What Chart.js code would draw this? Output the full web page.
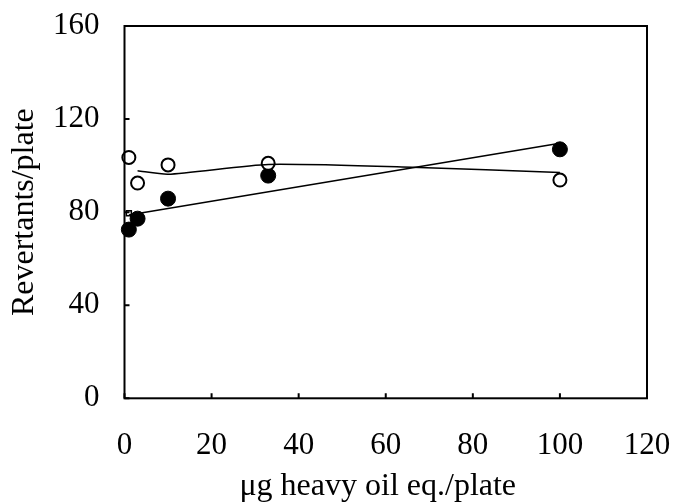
<!DOCTYPE html>
<html>
<head>
<meta charset="utf-8">
<script src="https://cdn.jsdelivr.net/npm/chart.js@4"></script>
<style>
  html, body { margin: 0; padding: 0; background: #fff; }
  #wrap { width: 673px; height: 504px; }
</style>
</head>
<body>
<div id="wrap"><canvas id="myChart" width="673" height="504"></canvas></div>
<script>
// doses (ug heavy oil eq./plate)
const doses = [1, 3, 10, 33, 100];

// revertants per plate
const openValues = [103.5, 92.5, 100.3, 101.0, 93.8];
const filledValues = [72.5, 77.2, 85.8, 95.7, 107.0];

// trend lines
const filledTrendX = [1, 100];
const filledTrendY = [78.8, 109.6];
const openTrendX = [3, 10, 33, 66, 100];
const openTrendY = [97.8, 96.3, 100.5, 99.3, 97.0];

// small square marker next to the axis
const squareX = [1];
const squareY = [79.5];

const xTicks = [0, 20, 40, 60, 80, 100, 120];
const yTicks = [0, 40, 80, 120, 160];

const toPoints = (xs, ys) => xs.map((x, i) => ({ x: x, y: ys[i] }));

const serif = "'Liberation Serif', 'Times New Roman', serif";

// frame + inward tick marks
const framePlugin = {
  id: "frame",
  afterDatasetsDraw(chart) {
    const { ctx, chartArea: a, scales } = chart;
    ctx.save();
    ctx.strokeStyle = "#000";
    ctx.lineWidth = 2;
    ctx.strokeRect(a.left, a.top, a.right - a.left, a.bottom - a.top);
    ctx.beginPath();
    xTicks.forEach((v) => {
      const px = scales.x.getPixelForValue(v);
      ctx.moveTo(px, a.bottom);
      ctx.lineTo(px, a.bottom - 5);
    });
    yTicks.forEach((v) => {
      const py = scales.y.getPixelForValue(v);
      ctx.moveTo(a.left, py);
      ctx.lineTo(a.left + 5, py);
    });
    ctx.stroke();
    ctx.restore();
  },
};

const data = {
  datasets: [
    {
      label: "filled trend",
      data: toPoints(filledTrendX, filledTrendY),
      borderColor: "#000",
      borderWidth: 1.5,
      pointRadius: 0,
      showLine: true,
      fill: false,
    },
    {
      label: "open trend",
      data: toPoints(openTrendX, openTrendY),
      borderColor: "#000",
      borderWidth: 1.5,
      pointRadius: 0,
      showLine: true,
      tension: 0.2,
      fill: false,
    },
    {
      label: "square",
      data: toPoints(squareX, squareY),
      pointStyle: "rect",
      pointRadius: 3.5,
      backgroundColor: "#fff",
      borderColor: "#000",
      borderWidth: 1.5,
      showLine: false,
    },
    {
      label: "open",
      data: toPoints(doses, openValues),
      pointStyle: "circle",
      pointRadius: 6.5,
      backgroundColor: "#fff",
      borderColor: "#000",
      borderWidth: 2,
      showLine: false,
    },
    {
      label: "filled",
      data: toPoints(doses, filledValues),
      pointStyle: "circle",
      pointRadius: 7.5,
      backgroundColor: "#000",
      borderColor: "#000",
      borderWidth: 1,
      showLine: false,
    },
  ],
};

const config = {
  type: "scatter",
  data: data,
  plugins: [framePlugin],
  options: {
    responsive: false,
    animation: false,
    clip: false,
    layout: { padding: { top: 26, right: 26, left: 0, bottom: 0 } },
    plugins: { legend: { display: false }, tooltip: { enabled: false } },
    scales: {
      x: {
        type: "linear",
        min: 0,
        max: 120,
        afterBuildTicks: (s) => { s.ticks = xTicks.map((v) => ({ value: v })); },
        afterFit: (s) => {
          s.height = 105.7;
          s.paddingLeft = 0;
          s.paddingRight = 0;
        },
        grid: { display: false, drawTicks: false },
        border: { display: false },
        ticks: { color: "#000", padding: 29, maxRotation: 0, font: { family: serif, size: 31 } },
        title: {
          display: true,
          // trailing spaces nudge the centred title a little to the left, as in the original
          text: "μg heavy oil eq./plate\u00a0\u00a0",
          color: "#000",
          font: { family: serif, size: 32, lineHeight: 1.1 },
          padding: 0,
        },
      },
      y: {
        type: "linear",
        min: 0,
        max: 160,
        afterBuildTicks: (s) => { s.ticks = yTicks.map((v) => ({ value: v })); },
        afterFit: (s) => {
          s.width = 124.5;
          s.paddingTop = 0;
          s.paddingBottom = 0;
        },
        grid: { display: false, drawTicks: false },
        border: { display: false },
        ticks: { color: "#000", padding: 25, font: { family: serif, size: 31 } },
        title: {
          display: true,
          text: "Revertants/plate",
          color: "#000",
          font: { family: serif, size: 32 },
          padding: 5,
        },
      },
    },
  },
};

const ctx = document.getElementById("myChart");
const myChart = new Chart(ctx, config);
</script>
</body>
</html>
